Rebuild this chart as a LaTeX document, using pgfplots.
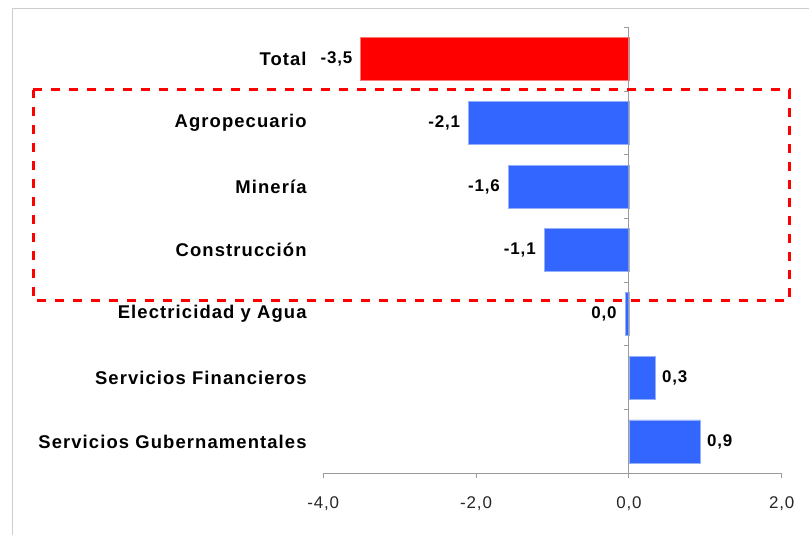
\documentclass[border=0pt]{standalone}
\usepackage{pgfplots}
\pgfplotsset{compat=1.18}
\usepackage{fontspec}
\setmainfont{Liberation Sans}
\newfontfamily\catfont{Liberation Sans}[LetterSpace=6]
\newfontfamily\tickfont{Liberation Sans}[LetterSpace=5]
\definecolor{barblue}{RGB}{51,102,255}
\definecolor{barblueedge}{RGB}{150,175,250}
\definecolor{redge}{RGB}{255,120,120}
\definecolor{axgray}{RGB}{155,155,155}
\definecolor{framegray}{RGB}{205,205,205}
\pgfplotstableread[row sep=\\]{
x y lab\\
-3.51 0 -3,5\\
}\totaltab
\pgfplotstableread[row sep=\\]{
x y lab\\
-2.10 1 -2,1\\
-1.58 2 -1,6\\
-1.11 3 -1,1\\
-0.05 4 0,0\\
}\negtab
\pgfplotstableread[row sep=\\]{
x y lab\\
0.35 5 0,3\\
0.94 6 0,9\\
}\postab
\begin{document}
\begin{tikzpicture}
\useasboundingbox (0,0) rectangle (809bp,535bp);
\draw[framegray, line width=1bp] (12.5bp,-10bp) -- (12.5bp,526bp) -- (830bp,526bp);
\begin{axis}[
  at={(323.3bp,61.7bp)}, anchor=south west,
  scale only axis, width=458.4bp, height=446bp,
  xmin=-4, xmax=2, ymin=-0.5, ymax=6.5, y dir=reverse,
  xbar, bar width=0.675, bar shift=0pt,
  axis x line*=bottom, axis y line*=left,
  axis line style={-},
  x axis line style={axgray, line width=1bp},
  y axis line style={draw=none},
  xtick={-4,-2,0,2},
  xticklabels={{-4,0},{-2,0},{0,0},{2,0}},
  xticklabel style={font=\tickfont\fontsize{17}{18}\selectfont, text=black!85, anchor=north, inner sep=0pt, yshift=-18bp},
  x tick style={axgray, line width=1bp},
  tick align=outside, major tick length=5bp,
  ytick={0,...,6},
  yticklabels={Total, Agropecuario, {Minería\ }, Construcción, Electricidad y Agua, Servicios Financieros, Servicios Gubernamentales},
  y tick style={draw=none},
  yticklabel style={font=\catfont\bfseries\fontsize{18.5}{20}\selectfont, anchor=east, inner sep=0pt, xshift=-11.5bp},
  nodes near coords, point meta=explicit symbolic,
  clip=false,
]
\addplot[fill=red, draw=redge, line width=0.8bp,
  nodes near coords style={font=\tickfont\bfseries\fontsize{17}{18}\selectfont, anchor=east, inner sep=0pt, xshift=-8bp}]
  table[x=x, y=y, meta=lab] {\totaltab};
\addplot[fill=barblue, draw=barblueedge, line width=0.8bp,
  nodes near coords style={font=\tickfont\bfseries\fontsize{17}{18}\selectfont, anchor=east, inner sep=0pt, xshift=-8bp}]
  table[x=x, y=y, meta=lab] {\negtab};
\addplot[fill=barblue, draw=barblueedge, line width=0.8bp,
  nodes near coords style={font=\tickfont\bfseries\fontsize{17}{18}\selectfont, anchor=west, inner sep=0pt, xshift=6bp}]
  table[x=x, y=y, meta=lab] {\postab};
\draw[axgray, line width=1bp] (axis cs:0,-0.5) -- (axis cs:0,6.5);
\pgfplotsinvokeforeach{-0.5,0.5,1.5,2.5,3.5,4.5,5.5}{
  \draw[axgray, line width=1bp] (axis cs:0,#1) -- ([xshift=-5bp]axis cs:0,#1);
}
\end{axis}
\draw[red, line width=3bp, dash pattern=on 9bp off 9bp] (33bp,445bp) -- (789bp,445bp) -- (789bp,234bp) -- (33bp,234bp) -- cycle;
\end{tikzpicture}
\end{document}
